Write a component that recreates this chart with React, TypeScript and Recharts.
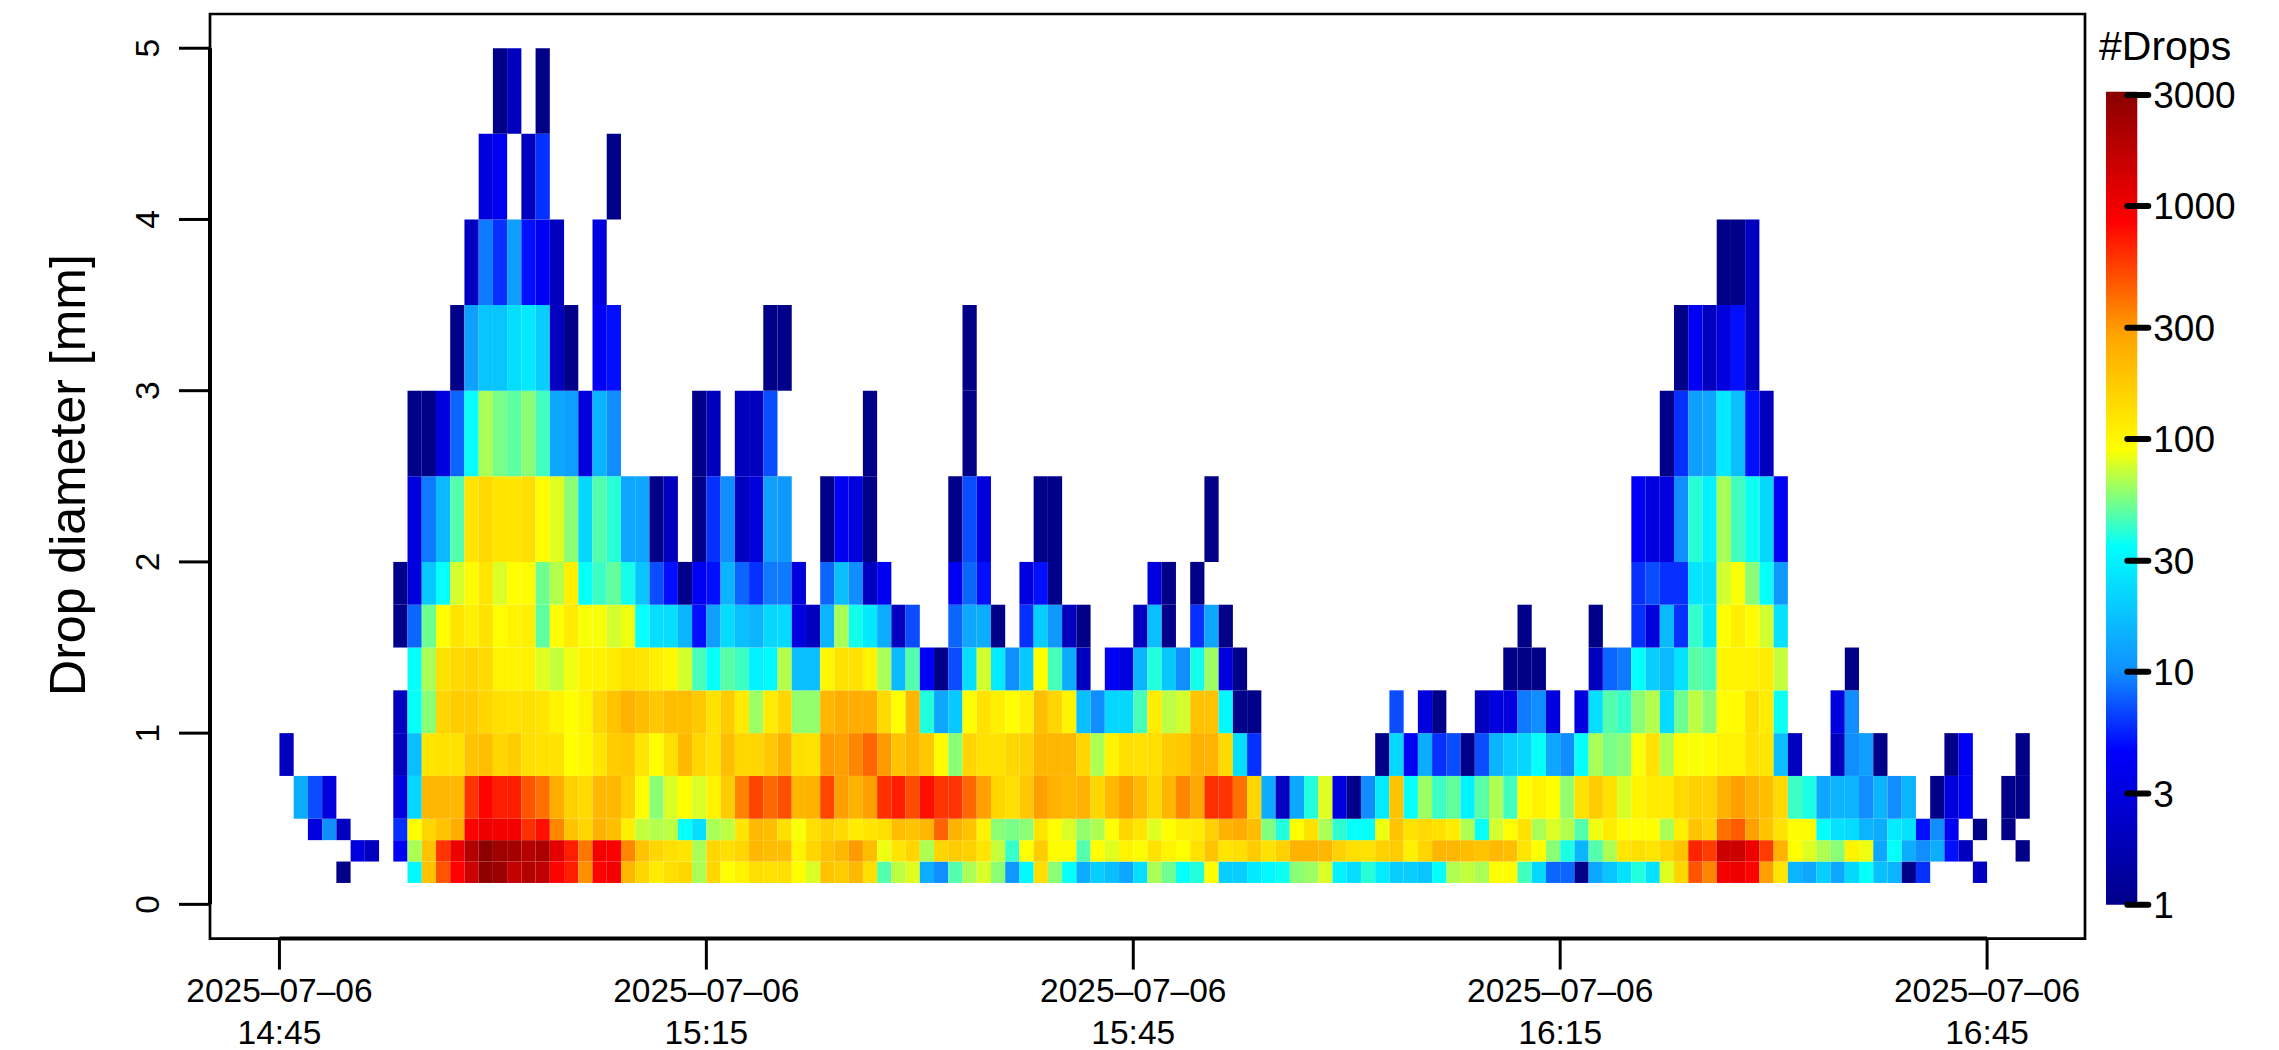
import React from "react";
import { ComposedChart, ReferenceArea, ReferenceLine, XAxis, YAxis } from "recharts";

// minutes after 14:45; one column per minute, 123 columns
const xDomain = [-4.88, 126.88];
const xTicks = [0, 30, 60, 90, 120];
const tickDates = ["2025–07–06", "2025–07–06", "2025–07–06", "2025–07–06", "2025–07–06"];
const tickTimes = ["14:45", "15:15", "15:45", "16:15", "16:45"];
const yDomain = [-0.2, 5.2];
const yTicks = [0, 1, 2, 3, 4, 5];
const countTicks = [1, 3, 10, 30, 100, 300, 1000, 3000];
const countMax = 3097;

const classLow = [0.125, 0.25, 0.375, 0.5, 0.75, 1, 1.25, 1.5, 1.75, 2, 2.5, 3, 3.5, 4, 4.5];
const classHigh = [0.25, 0.375, 0.5, 0.75, 1, 1.25, 1.5, 1.75, 2, 2.5, 3, 3.5, 4, 4.5, 5];

const d0125 = [
  0, 0, 0, 0, 1, 0, 0, 0, 0, 32,
  190, 480, 850, 1500, 2800, 2500, 1600, 1900, 1700, 850,
  700, 320, 850, 950, 220, 150, 115, 135, 150, 65,
  150, 90, 105, 135, 130, 135, 90, 78, 190, 170,
  220, 135, 47, 70, 80, 14, 10, 47, 65, 78,
  58, 11, 32, 135, 58, 35, 14, 20, 17, 13,
  24, 65, 52, 35, 39, 90, 20, 20, 27, 32,
  36, 58, 62, 78, 30, 24, 40, 28, 20, 20,
  18, 35, 66, 72, 65, 90, 92, 44, 22, 8,
  8, 1, 13, 18, 25, 39, 25, 80, 150, 480,
  340, 950, 1050, 850, 290, 125, 15, 13, 20, 13,
  22, 35, 17, 15, 1, 6, 0, 0, 0, 2,
  0, 0, 0,
];
const d0250 = [
  0, 0, 0, 0, 0, 3, 2, 0, 4, 65,
  190, 600, 1050, 1900, 3000, 2400, 2300, 1900, 2100, 1150,
  700, 380, 950, 900, 340, 190, 150, 135, 125, 65,
  150, 135, 150, 220, 205, 205, 105, 150, 190, 220,
  300, 205, 85, 125, 150, 66, 150, 170, 160, 125,
  72, 42, 90, 170, 95, 95, 47, 90, 80, 105,
  95, 130, 105, 90, 130, 190, 125, 135, 170, 130,
  160, 235, 235, 225, 160, 135, 130, 160, 170, 110,
  150, 225, 225, 205, 190, 215, 200, 125, 90, 58,
  38, 15, 47, 66, 125, 135, 125, 150, 190, 670,
  570, 1500, 1500, 1050, 570, 235, 90, 80, 66, 58,
  105, 85, 13, 35, 14, 10, 14, 5, 2, 0,
  0, 0, 1,
];
const d0375 = [
  0, 0, 3, 10, 2, 0, 0, 0, 6, 90,
  150, 190, 250, 850, 1050, 950, 950, 620, 780, 340,
  190, 150, 235, 200, 110, 72, 68, 70, 35, 24,
  65, 70, 125, 215, 200, 135, 88, 135, 160, 145,
  115, 125, 135, 200, 190, 225, 440, 235, 190, 105,
  58, 54, 58, 125, 90, 78, 60, 66, 90, 150,
  125, 80, 90, 110, 115, 160, 235, 250, 205, 56,
  39, 92, 130, 65, 41, 35, 35, 85, 190, 130,
  145, 130, 115, 66, 35, 76, 92, 130, 65, 78,
  68, 47, 85, 115, 93, 93, 90, 65, 110, 190,
  160, 400, 460, 290, 190, 130, 95, 95, 35, 25,
  23, 15, 14, 28, 25, 5, 10, 4, 0, 1,
  0, 1, 0,
];
const d0500 = [
  0, 14, 7, 3, 0, 0, 0, 0, 3, 22,
  225, 225, 225, 600, 850, 700, 700, 480, 400, 250,
  160, 145, 215, 215, 160, 90, 58, 78, 90, 78,
  105, 170, 350, 540, 420, 500, 225, 235, 530, 290,
  235, 290, 620, 700, 510, 770, 600, 600, 420, 290,
  150, 135, 180, 290, 235, 215, 235, 150, 215, 290,
  215, 150, 225, 340, 270, 620, 600, 400, 150, 14,
  2, 13, 39, 80, 3, 1, 10, 28, 190, 35,
  62, 43, 50, 30, 48, 66, 44, 90, 105, 90,
  60, 130, 170, 130, 78, 105, 115, 115, 145, 160,
  160, 235, 290, 235, 200, 145, 43, 38, 13, 15,
  15, 10, 15, 10, 15, 0, 1, 3, 4, 0,
  0, 1, 1,
];
const d0750 = [
  2, 0, 0, 0, 0, 0, 0, 0, 2, 17,
  125, 130, 130, 190, 200, 150, 170, 135, 130, 130,
  90, 100, 125, 170, 180, 125, 90, 135, 215, 150,
  130, 200, 150, 150, 180, 235, 135, 130, 300, 290,
  340, 430, 300, 190, 225, 180, 95, 58, 150, 130,
  130, 150, 160, 225, 225, 225, 150, 66, 105, 135,
  130, 135, 170, 180, 235, 235, 145, 24, 6, 0,
  0, 0, 0, 0, 0, 0, 0, 1, 22, 4,
  14, 6, 7, 1, 7, 15, 20, 22, 35, 13,
  10, 35, 65, 54, 58, 88, 130, 68, 95, 88,
  95, 105, 105, 130, 125, 17, 2, 0, 0, 2,
  10, 12, 1, 0, 0, 0, 0, 1, 4, 0,
  0, 0, 1,
];
const d1000 = [
  0, 0, 0, 0, 0, 0, 0, 0, 2, 35,
  58, 150, 170, 170, 150, 135, 130, 135, 125, 105,
  90, 105, 150, 190, 235, 205, 180, 200, 200, 180,
  130, 170, 115, 62, 115, 150, 60, 60, 225, 250,
  250, 250, 145, 90, 225, 39, 13, 19, 90, 130,
  110, 90, 110, 200, 150, 105, 17, 10, 22, 22,
  45, 115, 70, 76, 190, 190, 32, 1, 1, 0,
  0, 0, 0, 0, 0, 0, 0, 0, 7, 0,
  3, 1, 0, 0, 2, 3, 3, 9, 10, 3,
  0, 3, 24, 47, 42, 58, 68, 23, 52, 70,
  58, 92, 95, 135, 115, 36, 0, 0, 0, 3,
  10, 0, 0, 0, 0, 0, 0, 0, 0, 0,
  0, 0, 0,
];
const d1250 = [
  0, 0, 0, 0, 0, 0, 0, 0, 0, 35,
  65, 130, 145, 150, 145, 105, 105, 105, 80, 72,
  85, 105, 105, 115, 130, 125, 110, 100, 76, 45,
  35, 48, 43, 30, 32, 68, 17, 17, 100, 130,
  130, 105, 65, 16, 47, 4, 1, 7, 24, 76,
  28, 10, 19, 90, 45, 14, 2, 0, 4, 3,
  15, 39, 19, 10, 37, 62, 3, 1, 0, 0,
  0, 0, 0, 0, 0, 0, 0, 0, 0, 0,
  0, 0, 0, 0, 0, 0, 1, 1, 1, 0,
  0, 0, 2, 8, 9, 35, 20, 16, 25, 48,
  45, 105, 105, 105, 115, 72, 0, 0, 0, 0,
  1, 0, 0, 0, 0, 0, 0, 0, 0, 0,
  0, 0, 0,
];
const d1500 = [
  0, 0, 0, 0, 0, 0, 0, 0, 1, 8,
  52, 90, 125, 110, 130, 93, 105, 110, 49, 90,
  115, 88, 88, 76, 85, 35, 24, 24, 15, 5,
  12, 23, 17, 15, 22, 23, 3, 2, 15, 65,
  37, 27, 14, 2, 7, 0, 0, 8, 13, 14,
  1, 0, 6, 20, 11, 2, 1, 0, 0, 0,
  2, 17, 1, 0, 6, 13, 1, 0, 0, 0,
  0, 0, 0, 0, 0, 0, 0, 0, 0, 0,
  0, 0, 0, 0, 0, 0, 0, 1, 0, 0,
  0, 0, 1, 0, 0, 6, 3, 16, 6, 42,
  27, 90, 110, 93, 76, 25, 0, 0, 0, 0,
  0, 0, 0, 0, 0, 0, 0, 0, 0, 0,
  0, 0, 0,
];
const d1750 = [
  0, 0, 0, 0, 0, 0, 0, 0, 1, 3,
  19, 35, 76, 95, 125, 78, 90, 92, 52, 68,
  110, 35, 43, 50, 37, 18, 7, 5, 1, 4,
  5, 15, 8, 6, 9, 9, 3, 0, 8, 17,
  10, 2, 4, 0, 0, 0, 0, 4, 8, 5,
  0, 0, 3, 5, 1, 0, 0, 0, 0, 0,
  0, 3, 1, 0, 1, 0, 0, 0, 0, 0,
  0, 0, 0, 0, 0, 0, 0, 0, 0, 0,
  0, 0, 0, 0, 0, 0, 0, 0, 0, 0,
  0, 0, 0, 0, 0, 6, 7, 6, 6, 26,
  25, 76, 88, 58, 35, 11, 0, 0, 0, 0,
  0, 0, 0, 0, 0, 0, 0, 0, 0, 0,
  0, 0, 0,
];
const d2000 = [
  0, 0, 0, 0, 0, 0, 0, 0, 0, 3,
  9, 16, 47, 125, 145, 125, 125, 135, 93, 80,
  58, 22, 47, 40, 13, 13, 1, 2, 0, 1,
  6, 10, 2, 3, 12, 11, 0, 0, 1, 4,
  3, 1, 0, 0, 0, 0, 0, 1, 7, 3,
  0, 0, 0, 1, 1, 0, 0, 0, 0, 0,
  0, 0, 0, 0, 0, 1, 0, 0, 0, 0,
  0, 0, 0, 0, 0, 0, 0, 0, 0, 0,
  0, 0, 0, 0, 0, 0, 0, 0, 0, 0,
  0, 0, 0, 0, 0, 4, 3, 3, 10, 40,
  30, 65, 44, 36, 22, 4, 0, 0, 0, 0,
  0, 0, 0, 0, 0, 0, 0, 0, 0, 0,
  0, 0, 0,
];
const d2500 = [
  0, 0, 0, 0, 0, 0, 0, 0, 0, 1,
  1, 3, 8, 35, 65, 54, 49, 58, 44, 13,
  12, 3, 15, 10, 0, 0, 0, 0, 0, 1,
  2, 0, 2, 2, 7, 0, 0, 0, 0, 0,
  0, 1, 0, 0, 0, 0, 0, 0, 1, 0,
  0, 0, 0, 0, 0, 0, 0, 0, 0, 0,
  0, 0, 0, 0, 0, 0, 0, 0, 0, 0,
  0, 0, 0, 0, 0, 0, 0, 0, 0, 0,
  0, 0, 0, 0, 0, 0, 0, 0, 0, 0,
  0, 0, 0, 0, 0, 0, 0, 1, 6, 12,
  13, 27, 17, 5, 2, 0, 0, 0, 0, 0,
  0, 0, 0, 0, 0, 0, 0, 0, 0, 0,
  0, 0, 0,
];
const d3000 = [
  0, 0, 0, 0, 0, 0, 0, 0, 0, 0,
  0, 0, 1, 12, 18, 18, 24, 27, 20, 2,
  1, 0, 4, 5, 0, 0, 0, 0, 0, 0,
  0, 0, 0, 0, 1, 1, 0, 0, 0, 0,
  0, 0, 0, 0, 0, 0, 0, 0, 1, 0,
  0, 0, 0, 0, 0, 0, 0, 0, 0, 0,
  0, 0, 0, 0, 0, 0, 0, 0, 0, 0,
  0, 0, 0, 0, 0, 0, 0, 0, 0, 0,
  0, 0, 0, 0, 0, 0, 0, 0, 0, 0,
  0, 0, 0, 0, 0, 0, 0, 0, 1, 4,
  2, 3, 5, 2, 0, 0, 0, 0, 0, 0,
  0, 0, 0, 0, 0, 0, 0, 0, 0, 0,
  0, 0, 0,
];
const d3500 = [
  0, 0, 0, 0, 0, 0, 0, 0, 0, 0,
  0, 0, 0, 2, 9, 6, 12, 5, 4, 2,
  0, 0, 3, 0, 0, 0, 0, 0, 0, 0,
  0, 0, 0, 0, 0, 0, 0, 0, 0, 0,
  0, 0, 0, 0, 0, 0, 0, 0, 0, 0,
  0, 0, 0, 0, 0, 0, 0, 0, 0, 0,
  0, 0, 0, 0, 0, 0, 0, 0, 0, 0,
  0, 0, 0, 0, 0, 0, 0, 0, 0, 0,
  0, 0, 0, 0, 0, 0, 0, 0, 0, 0,
  0, 0, 0, 0, 0, 0, 0, 0, 0, 0,
  0, 1, 1, 2, 0, 0, 0, 0, 0, 0,
  0, 0, 0, 0, 0, 0, 0, 0, 0, 0,
  0, 0, 0,
];
const d4000 = [
  0, 0, 0, 0, 0, 0, 0, 0, 0, 0,
  0, 0, 0, 0, 3, 4, 0, 2, 6, 0,
  0, 0, 0, 1, 0, 0, 0, 0, 0, 0,
];
const d4500 = [
  0, 0, 0, 0, 0, 0, 0, 0, 0, 0,
  0, 0, 0, 0, 0, 1, 2, 0, 1, 0,
];

const classRows = [d0125, d0250, d0375, d0500, d0750, d1000, d1250, d1500, d1750, d2000, d2500, d3000, d3500, d4000, d4500];

// colour ramp, position on the log count scale
const rampAt = [0, 0.19, 0.288, 0.44, 0.56, 0.7, 0.84, 1];
const rampRgb = [
  [0, 0, 136],
  [0, 0, 255],
  [16, 144, 255],
  [0, 255, 255],
  [255, 255, 0],
  [255, 165, 0],
  [255, 0, 0],
  [136, 0, 0],
];

const hex = (rgb: number[]) => `rgb(${rgb.map((c) => Math.round(c)).join(",")})`;

function countColor(count: number): string {
  const t = Math.log10(count) / Math.log10(countMax);
  let i = 0;
  while (i < rampAt.length - 2 && t > rampAt[i + 1]) i++;
  const f = (t - rampAt[i]) / (rampAt[i + 1] - rampAt[i]);
  return hex(rampRgb[i].map((c, j) => c + (rampRgb[i + 1][j] - c) * f));
}

const FONT = "'Liberation Sans', Arial, sans-serif";

function XTick({ x, y, index }: any) {
  return (
    <g fontFamily={FONT} fontSize={33.5} fill="#000" textAnchor="middle">
      <text x={x} y={y + 32}>{tickDates[index]}</text>
      <text x={x} y={y + 74}>{tickTimes[index]}</text>
    </g>
  );
}

function YTick({ x, y, payload }: any) {
  return (
    <text x={x - 20} y={y} transform={`rotate(-90 ${x - 20} ${y})`} fontFamily={FONT} fontSize={33.5} fill="#000" textAnchor="middle">
      {payload.value}
    </text>
  );
}

function CountTick({ x, y, payload }: any) {
  return (
    <g>
      <line x1={x - 10} x2={x + 11} y1={y} y2={y} stroke="#000" strokeWidth={6} strokeLinecap="round" />
      <text x={x + 16} y={y + 13} fontFamily={FONT} fontSize={37} fill="#000">{payload.value}</text>
    </g>
  );
}

function Heatmap() {
  return (
    <ComposedChart width={2279} height={1050} margin={{ top: 14, right: 194, bottom: 0, left: 0 }} style={{ position: "absolute", left: 0, top: 0 }}>
      <XAxis
        type="number"
        dataKey="x"
        domain={xDomain}
        allowDataOverflow
        ticks={xTicks}
        interval={0}
        height={111.4}
        axisLine={false}
        tickSize={31}
        tickMargin={0}
        tickLine={{ stroke: "#000", strokeWidth: 3 }}
        tick={<XTick />}
      />
      <YAxis
        type="number"
        domain={yDomain}
        allowDataOverflow
        ticks={yTicks}
        interval={0}
        width={210}
        axisLine={false}
        tickSize={31}
        tickMargin={0}
        tickLine={{ stroke: "#000", strokeWidth: 3 }}
        tick={<YTick />}
      />
      {classRows.map((row, r) =>
        row.map((count, k) =>
          count > 0 ? (
            <ReferenceArea
              key={`${r}-${k}`}
              x1={k}
              x2={k + 1}
              y1={classLow[r]}
              y2={classHigh[r]}
              fill={countColor(count)}
              fillOpacity={1}
              stroke="none"
              ifOverflow="visible"
            />
          ) : null
        )
      )}
      <ReferenceArea x1={xDomain[0]} x2={xDomain[1]} y1={yDomain[0]} y2={yDomain[1]} fill="none" stroke="#000" strokeWidth={2.7} ifOverflow="visible" />
      <ReferenceLine segment={[{ x: xTicks[0], y: yDomain[0] }, { x: xTicks[4], y: yDomain[0] }]} stroke="#000" strokeWidth={4} ifOverflow="visible" />
      <ReferenceLine segment={[{ x: xDomain[0], y: yTicks[0] }, { x: xDomain[0], y: yTicks[5] }]} stroke="#000" strokeWidth={4} ifOverflow="visible" />
      <text x={85} y={475} transform="rotate(-90 85 475)" fontFamily={FONT} fontSize={50} fill="#000" textAnchor="middle">
        Drop diameter [mm]
      </text>
    </ComposedChart>
  );
}

function ColorBar() {
  return (
    <ComposedChart width={189} height={1050} margin={{ top: 91.7, right: 0, bottom: 145.3, left: 16 }} style={{ position: "absolute", left: 2090, top: 0 }}>
      <defs>
        <linearGradient id="ramp" x1="0" y1="1" x2="0" y2="0">
          {rampAt.map((at, i) => (
            <stop key={at} offset={at} stopColor={hex(rampRgb[i])} />
          ))}
        </linearGradient>
      </defs>
      <XAxis type="number" dataKey="x" domain={[0, 1]} allowDataOverflow hide />
      <YAxis
        type="number"
        orientation="right"
        scale="log"
        domain={[1, countMax]}
        allowDataOverflow
        ticks={countTicks}
        interval={0}
        width={141.7}
        axisLine={false}
        tickLine={false}
        tickSize={0}
        tickMargin={0}
        tick={<CountTick />}
      />
      <ReferenceArea x1={0} x2={1} y1={1} y2={countMax} fill="url(#ramp)" fillOpacity={1} stroke="none" ifOverflow="visible" />
      <text x={9} y={60} fontFamily={FONT} fontSize={41} fill="#000">#Drops</text>
    </ComposedChart>
  );
}

export default function App() {
  return (
    <div style={{ position: "absolute", left: 0, top: 0, width: 2279, height: 1050, background: "#fff" }}>
      <Heatmap />
      <ColorBar />
    </div>
  );
}
